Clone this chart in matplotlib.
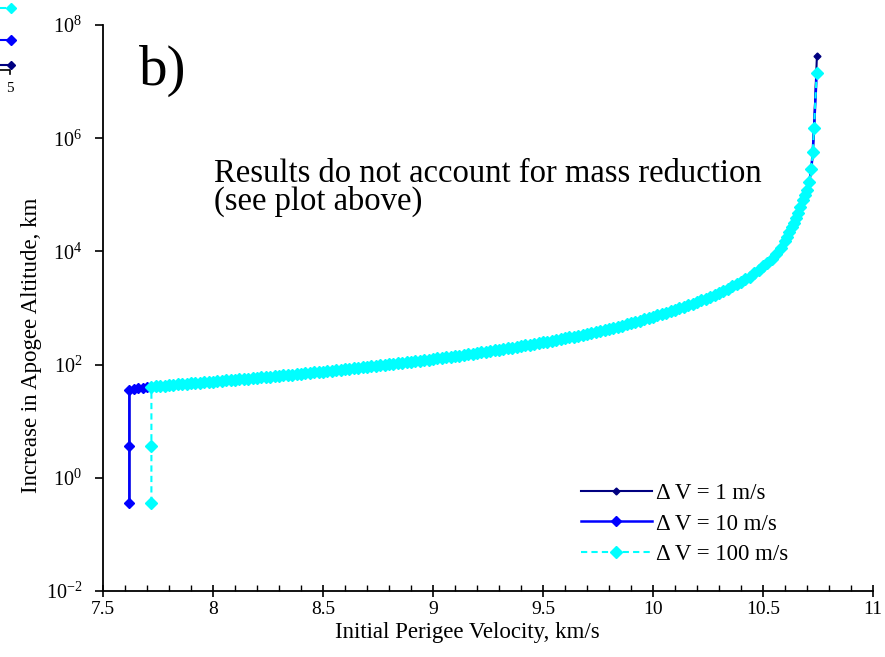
import math
import matplotlib
matplotlib.use("Agg")
import matplotlib.pyplot as plt
from matplotlib.lines import Line2D
from matplotlib.ticker import FixedLocator, FuncFormatter, MultipleLocator

plt.rcParams['font.family'] = ['Liberation Serif', 'DejaVu Serif']
plt.rcParams['mathtext.fontset'] = 'custom'
plt.rcParams['mathtext.rm'] = 'Liberation Serif'
plt.rcParams['mathtext.it'] = 'Liberation Serif:italic'

# ---- data ----
v_main = [7.72, 7.74, 7.76, 7.78, 7.80, 7.82, 7.84, 7.86, 7.88, 7.90,
          7.92, 7.94, 7.96, 7.98, 8.00, 8.02, 8.04, 8.06, 8.08, 8.10,
          8.12, 8.14, 8.16, 8.18, 8.20, 8.22, 8.24, 8.26, 8.28, 8.30,
          8.32, 8.34, 8.36, 8.38, 8.40, 8.42, 8.44, 8.46, 8.48, 8.50,
          8.52, 8.54, 8.56, 8.58, 8.60, 8.62, 8.64, 8.66, 8.68, 8.70,
          8.72, 8.74, 8.76, 8.78, 8.80, 8.82, 8.84, 8.86, 8.88, 8.90,
          8.92, 8.94, 8.96, 8.98, 9.00, 9.02, 9.04, 9.06, 9.08, 9.10,
          9.12, 9.14, 9.16, 9.18, 9.20, 9.22, 9.24, 9.26, 9.28, 9.30,
          9.32, 9.34, 9.36, 9.38, 9.40, 9.42, 9.44, 9.46, 9.48, 9.50,
          9.52, 9.54, 9.56, 9.58, 9.60, 9.62, 9.64, 9.66, 9.68, 9.70,
          9.72, 9.74, 9.76, 9.78, 9.80, 9.82, 9.84, 9.86, 9.88, 9.90,
          9.92, 9.94, 9.96, 9.98, 10.00, 10.02, 10.04, 10.06, 10.08, 10.10,
          10.12, 10.14, 10.16, 10.18, 10.20, 10.22, 10.24, 10.26, 10.28, 10.30,
          10.32, 10.34, 10.36, 10.38, 10.40, 10.42, 10.44, 10.46, 10.48, 10.50,
          10.52, 10.54, 10.56, 10.58, 10.60, 10.61, 10.62, 10.63, 10.64, 10.65,
          10.66, 10.67, 10.68, 10.69, 10.70, 10.71, 10.72, 10.726, 10.732]
h_main = [41.0, 41.5, 42.1, 42.7, 43.3, 43.9, 44.6, 45.2, 45.8, 46.5,
          47.2, 47.9, 48.6, 49.3, 50.0, 50.8, 51.6, 52.4, 53.2, 54.0,
          54.8, 55.7, 56.6, 57.5, 58.4, 59.3, 60.3, 61.3, 62.3, 63.3,
          64.4, 65.5, 66.7, 67.8, 69.0, 70.2, 71.4, 72.7, 74.0, 75.3,
          76.7, 78.1, 79.6, 81.1, 82.6, 84.2, 85.9, 87.5, 89.2, 91.0,
          92.8, 94.7, 96.7, 98.7, 100.7, 102.8, 105.0, 107.3, 109.6, 112.0,
          114.5, 117.1, 119.7, 122.5, 125.3, 128.3, 131.3, 134.5, 137.7, 141.1,
          144.6, 148.3, 152.0, 155.9, 160.0, 164.3, 168.7, 173.3, 178.0, 183.0,
          188.2, 193.7, 199.3, 205.2, 211.3, 217.8, 224.5, 231.6, 238.9, 246.6,
          254.7, 263.3, 272.2, 281.7, 291.6, 302.1, 313.0, 324.7, 336.9, 349.9,
          363.7, 378.4, 393.8, 410.3, 427.7, 446.5, 466.3, 488.0, 512.0, 538.0,
          565.0, 595.0, 628.0, 662.0, 700.0, 738.0, 780.0, 823.0, 870.0, 923.0,
          980.0, 1042.0, 1110.0, 1186.0, 1270.0, 1360.0, 1460.0, 1575.0, 1700.0, 1845.0,
          2000.0, 2190.0, 2400.0, 2640.0, 2900.0, 3230.0, 3600.0, 4110.0, 4700.0, 5440.0,
          6300.0, 7490.0, 8900.0, 11500.0, 15000.0, 18200.0, 22000.0, 26500.0, 32000.0, 39000.0,
          48000.0, 62000.0, 80000.0, 98000.0, 120000.0, 170000.0, 290000.0, 570000.0, 1500000.0]

dv1_v_start = [7.62, 7.62, 7.64, 7.66, 7.68, 7.70]
dv1_h_start = [0.36, 36.0, 37.0, 38.0, 39.0, 40.0]
dv1_v_end = [10.745]
dv1_h_end = [2.8e7]

dv10_v_start = [7.62, 7.62, 7.62, 7.64, 7.66, 7.68, 7.70]
dv10_h_start = [0.36, 3.6, 36.0, 37.0, 38.0, 39.0, 40.0]
dv10_v_end = [10.744]
dv10_h_end = [1.4e7]

dv100_v_start = [7.72, 7.72]
dv100_h_start = [0.36, 3.6]
dv100_v_end = [10.744]
dv100_h_end = [1.4e7]

labels = ['Δ V = 1 m/s', 'Δ V = 10 m/s', 'Δ V = 100 m/s']
x_ticks = [7.5, 8, 8.5, 9, 9.5, 10, 10.5, 11]
x_ticklabels = ['7.5', '8', '8.5', '9', '9.5', '10', '10.5', '11']
y_ticks = [1e-2, 1e0, 1e2, 1e4, 1e6, 1e8]

navy = '#000080'
blue = '#0000ff'
cyan = '#00ffff'

fig = plt.figure(figsize=(8.85, 6.57), dpi=100)
ax = fig.add_axes([103/885, 1-591/657, (873-103)/885, (591-25)/657])

ax.plot(dv1_v_start + v_main + dv1_v_end, dv1_h_start + h_main + dv1_h_end,
        color=navy, lw=1.5, marker='D', ms=3.5, label=labels[0], zorder=2)
ax.plot(dv10_v_start + v_main + dv10_v_end, dv10_h_start + h_main + dv10_h_end,
        color=blue, lw=1.8, marker='D', ms=5.5, label=labels[1], zorder=3)
ax.plot(dv100_v_start + v_main + dv100_v_end, dv100_h_start + h_main + dv100_h_end,
        color=cyan, lw=1.5, ls=(0, (3, 2)), marker='D', ms=6, label=labels[2], zorder=4)

ax.set_yscale('log')
ax.set_xlim(7.5, 11)
ax.set_ylim(1e-2, 1e8)

ax.spines['top'].set_visible(False)
ax.spines['right'].set_visible(False)
for s in ('left', 'bottom'):
    ax.spines[s].set_linewidth(1.3)

ax.xaxis.set_major_locator(FixedLocator(x_ticks))
ax.set_xticklabels(x_ticklabels)
ax.xaxis.set_minor_locator(MultipleLocator(0.1))
ax.tick_params(axis='x', which='major', direction='inout', length=8, width=1.2, labelsize=14, pad=3)
ax.tick_params(axis='x', which='minor', direction='in', length=4, width=1.0)

ax.yaxis.set_major_locator(FixedLocator(y_ticks))
ax.yaxis.set_minor_locator(FixedLocator([]))

def yfmt(val, pos):
    e = int(round(math.log10(val)))
    return r'$\mathregular{10^{%d}}$' % e
ax.yaxis.set_major_formatter(FuncFormatter(yfmt))
ax.tick_params(axis='y', which='major', direction='out', length=6, width=1.2, labelsize=14.5, pad=9)

ax.set_xlabel('Initial Perigee Velocity, km/s', fontsize=16.5)
ax.xaxis.set_label_coords((467-103)/770, -(622-591)/566)
ax.set_ylabel('Increase in Apogee Altitude, km', fontsize=16.5)
ax.yaxis.set_label_coords((42-103)/770, (591-345)/566)

ax.text((139-103)/770, (591-45)/566, 'b)', transform=ax.transAxes, fontsize=41, va='top', ha='left')
ax.text((214-103)/770, (591-158)/566, 'Results do not account for mass reduction\n(see plot above)',
        transform=ax.transAxes, fontsize=23.5, va='top', ha='left', linespacing=0.9)

leg = ax.legend(loc='lower right', bbox_to_anchor=(0.917, 0.01), frameon=False,
                fontsize=16.5, handlelength=3.1, handletextpad=0.2, labelspacing=0.4)

# cropped fragment of a neighbouring legend at the left edge
fig.add_artist(Line2D([0/885, 12/885], [1-8/657, 1-8/657], color=cyan, lw=1.5, ls=(0, (3, 2)),
                      transform=fig.transFigure))
fig.add_artist(Line2D([11/885], [1-8/657], color=cyan, marker='D', ms=5, transform=fig.transFigure))
fig.add_artist(Line2D([0/885, 12/885], [1-40/657, 1-40/657], color=blue, lw=1.5,
                      transform=fig.transFigure))
fig.add_artist(Line2D([11/885], [1-40/657], color=blue, marker='D', ms=5, transform=fig.transFigure))
fig.add_artist(Line2D([0/885, 12/885], [1-65/657, 1-65/657], color=navy, lw=1.5,
                      transform=fig.transFigure))
fig.add_artist(Line2D([11/885], [1-65/657], color=navy, marker='D', ms=4, transform=fig.transFigure))
fig.add_artist(Line2D([0/885, 10/885, 10/885], [1-70/657, 1-70/657, 1-74/657], color='black', lw=1.2,
                      transform=fig.transFigure))
fig.text(6/885, 1-88/657, '5', fontsize=11, ha='left', va='center')

fig.savefig('out.png', dpi=100)
